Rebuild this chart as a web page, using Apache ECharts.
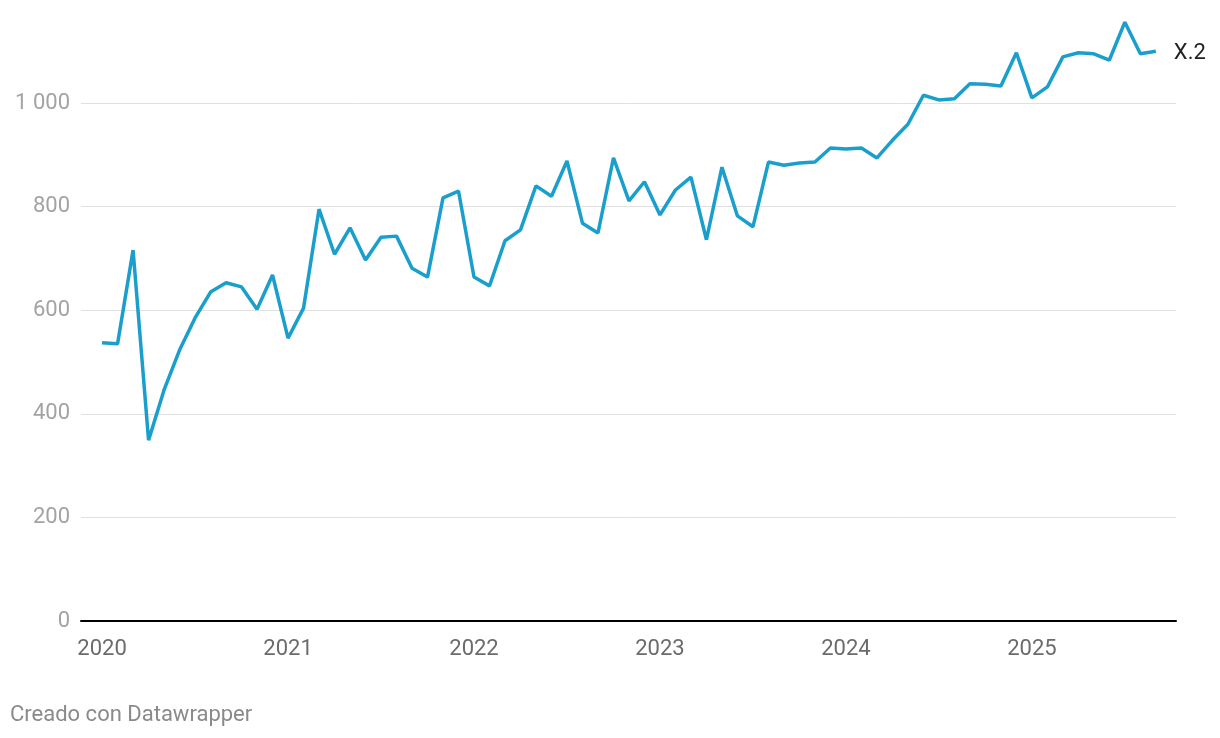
<!DOCTYPE html>
<html>
<head>
<meta charset="utf-8">
<script src="https://cdn.jsdelivr.net/npm/echarts@6/dist/echarts.min.js"></script>
<style>
html,body{margin:0;padding:0;background:#fff;}
#c{width:1220px;height:738px;}
#credit{position:absolute;left:10px;top:701px;font-family:Roboto,sans-serif;font-size:22px;color:#8a8a8a;}
</style>
</head>
<body>
<div id="c"></div>
<div id="credit">Creado con Datawrapper</div>
<script>
// Monthly values, Jan 2020 .. Sep 2025
const values = [
  537, 535, 716, 349, 446, 523, 585, 635, 653, 645, 602, 668,
  546, 604, 795, 708, 759, 697, 741, 743, 681, 664, 817, 830,
  664, 647, 734, 755, 840, 820, 888, 768, 749, 894, 811, 848,
  784, 832, 857, 736, 876, 782, 761, 886, 880, 884, 886, 913,
  911, 913, 894, 928, 959, 1015, 1006, 1008, 1037, 1036, 1033, 1097,
  1010, 1031, 1089, 1097, 1095, 1083, 1156, 1095, 1100
];
const yearLabels = ['2020', '2021', '2022', '2023', '2024', '2025'];
const yearTicks = [0, 12, 24, 36, 48, 60];
const seriesName = 'X.2';

const data = values.map((v, i) => [i, v]);
const chart = echarts.init(document.getElementById('c'));
chart.setOption({
  animation: false,
  textStyle: { fontFamily: 'Roboto' },
  grid: { left: 81, right: 44, top: 103, bottom: 117, containLabel: false },
  xAxis: {
    type: 'value', min: -1.36, max: 69.3,
    axisLine: { show: true, onZero: false, lineStyle: { color: '#000', width: 2 } },
    axisTick: { show: false },
    splitLine: { show: false },
    axisLabel: {
      customValues: yearTicks,
      formatter: v => yearLabels[Math.round(v / 12)],
      color: '#6b6b6b', fontSize: 22, margin: 17
    }
  },
  yAxis: {
    type: 'value', min: 0, max: 1000, interval: 200,
    axisLine: { show: false }, axisTick: { show: false },
    splitLine: { lineStyle: { color: '#e0e0e0', width: 1 } },
    axisLabel: {
      color: '#a3a3a3', fontSize: 22, margin: 11,
      formatter: v => v >= 1000 ? String(v).replace(/\B(?=(\d{3})+(?!\d))/g, ' ') : String(v)
    }
  },
  series: [{
    name: seriesName, type: 'line', data: data, clip: false,
    showSymbol: false, symbol: 'none',
    lineStyle: { color: '#1a9fcd', width: 3.5 },
    itemStyle: { color: '#1a9fcd' },
    endLabel: { show: true, formatter: seriesName, color: '#222', fontSize: 22, distance: 18, offset: [0, 2] }
  }]
});
</script>
</body>
</html>
